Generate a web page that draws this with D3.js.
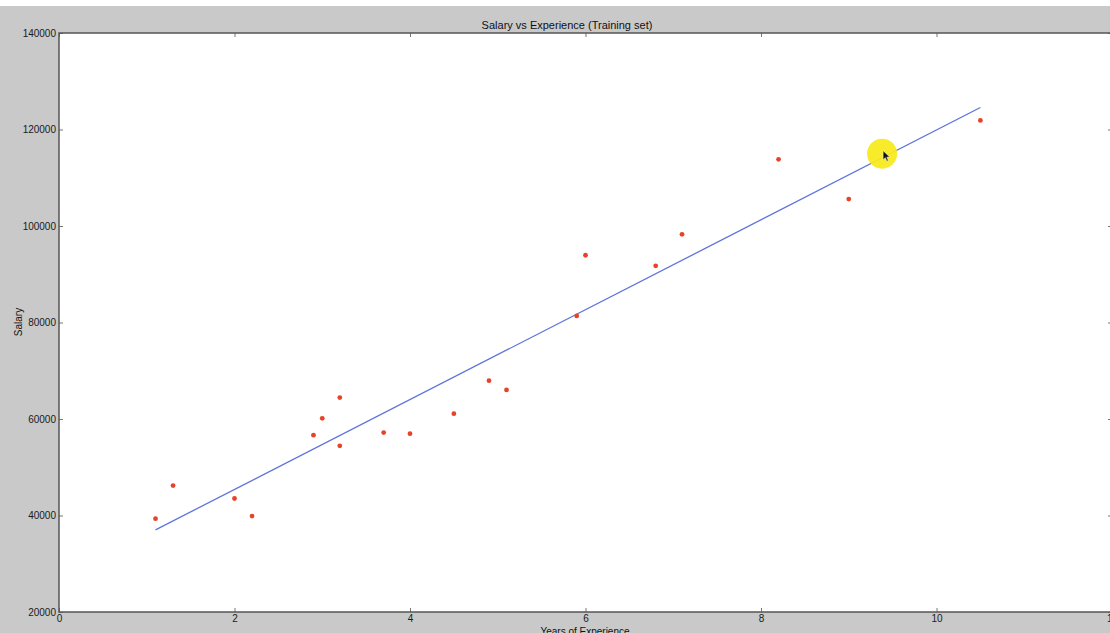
<!DOCTYPE html>
<html>
<head>
<meta charset="utf-8">
<script src="https://cdn.jsdelivr.net/npm/d3@7"></script>
<style>
  html, body { margin: 0; padding: 0; background: #fff; overflow: hidden; }
  svg { display: block; font-family: "Liberation Sans", Arial, sans-serif; }
</style>
</head>
<body>
<svg id="chart"></svg>
<script>
// training set points
const years = [1.1, 1.3, 2.0, 2.2, 2.9, 3.0, 3.2, 3.2, 3.7, 4.0, 4.5, 4.9, 5.1, 5.9, 6.0, 6.8, 7.1, 8.2, 9.0, 10.5];
const salary = [39343, 46205, 43525, 39891, 56642, 60150, 54445, 64445, 57189, 56957, 61111, 67938, 66029, 81363, 93940, 91738, 98273, 113812, 105582, 121872];
// regression line (predicted values at the ends)
const fitYears = [1.1, 10.5];
const fitSalary = [37024, 124562];
const xTicks = [0, 2, 4, 6, 8, 10, 12];
const yTicks = [20000, 40000, 60000, 80000, 100000, 120000, 140000];
// cursor highlight from the screen recording
const highlight = [9.38, 115000];

const width = 1110, height = 633;
const margin = {top: 33, right: -2, bottom: 21, left: 59};

const svg = d3.select('#chart').attr('width', width).attr('height', height);

svg.append('rect').attr('x', 0).attr('y', 6).attr('width', width).attr('height', height - 6).attr('fill', '#c9c9c9');

const x = d3.scaleLinear().domain([0, 12]).range([margin.left, width - margin.right]);
const y = d3.scaleLinear().domain([20000, 140000]).range([height - margin.bottom, margin.top]);

svg.append('rect')
  .attr('x', x(0)).attr('y', y(140000))
  .attr('width', x(12) - x(0)).attr('height', y(20000) - y(140000))
  .attr('fill', '#fff');

const g = svg.append('g');

// inward ticks, matplotlib style
const tl = 4;
const axStyle = sel => {
  sel.select('.domain').remove();
  sel.selectAll('line').attr('stroke', '#777').attr('stroke-width', 1);
  sel.selectAll('text').attr('fill', '#1a1a1a').style('font-size', '10px');
};
g.append('g').attr('transform', `translate(0,${y(20000)})`)
  .call(d3.axisBottom(x).tickValues(xTicks).tickSize(-tl).tickPadding(3).tickFormat(d3.format('d')))
  .call(axStyle);
g.append('g').attr('transform', `translate(0,${y(140000)})`)
  .call(d3.axisTop(x).tickValues(xTicks).tickSize(-tl).tickFormat(''))
  .call(axStyle);
g.append('g').attr('transform', `translate(${x(0)},0)`)
  .call(d3.axisLeft(y).tickValues(yTicks).tickSize(-tl).tickPadding(3).tickFormat(d3.format('d')))
  .call(axStyle);
g.append('g').attr('transform', `translate(${x(12)},0)`)
  .call(d3.axisRight(y).tickValues(yTicks).tickSize(-tl).tickFormat(''))
  .call(axStyle);

// frame
g.append('rect')
  .attr('x', x(0)).attr('y', y(140000))
  .attr('width', x(12) - x(0)).attr('height', y(20000) - y(140000))
  .attr('fill', 'none').attr('stroke', '#555').attr('stroke-width', 1.5);

// regression line
g.append('path')
  .datum(fitYears.map((d, i) => [d, fitSalary[i]]))
  .attr('d', d3.line().x(d => x(d[0])).y(d => y(d[1])))
  .attr('fill', 'none').attr('stroke', '#5f74dc').attr('stroke-width', 1.3);

// points
g.selectAll('circle.pt').data(years).enter().append('circle')
  .attr('class', 'pt')
  .attr('cx', d => x(d))
  .attr('cy', (d, i) => y(salary[i]))
  .attr('r', 2.4)
  .attr('fill', '#e5432a');

// yellow cursor highlight
g.append('circle')
  .attr('cx', x(highlight[0])).attr('cy', y(highlight[1]))
  .attr('r', 15).attr('fill', '#f7ea1f').attr('opacity', 0.95);
g.append('path')
  .attr('transform', `translate(${x(highlight[0]) + 1},${y(highlight[1]) - 3})`)
  .attr('d', 'M0,0 L0,9 L2.2,7 L3.8,10.5 L5.2,9.8 L3.7,6.5 L6.5,6.3 Z')
  .attr('fill', '#111').attr('stroke', '#fff').attr('stroke-width', 0.5);

// titles
svg.append('text').attr('x', 567).attr('y', 29).attr('text-anchor', 'middle')
  .style('font-size', '11px').attr('fill', '#111').text('Salary vs Experience (Training set)');
svg.append('text').attr('x', 585).attr('y', 635).attr('text-anchor', 'middle')
  .style('font-size', '10px').attr('fill', '#111').text('Years of Experience');
svg.append('text').attr('transform', 'translate(22,322) rotate(-90)').attr('text-anchor', 'middle')
  .style('font-size', '10px').attr('fill', '#111').text('Salary');
</script>
</body>
</html>
